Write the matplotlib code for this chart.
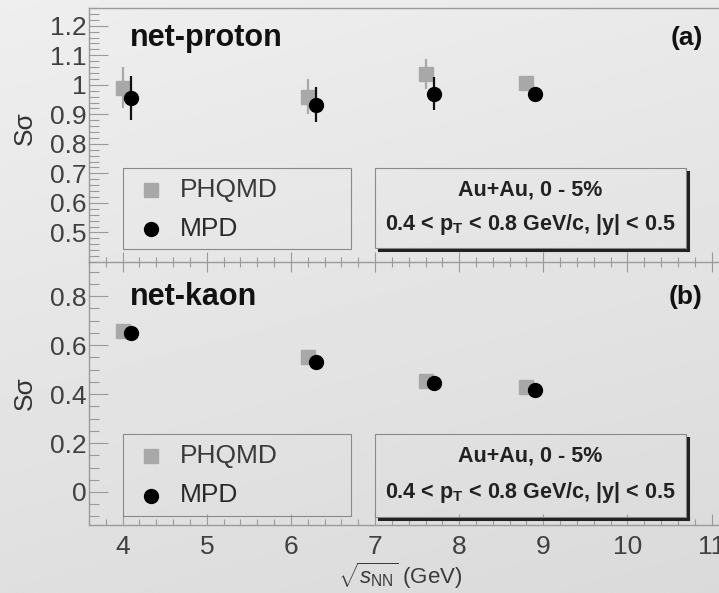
import numpy as np
import matplotlib
matplotlib.use("Agg")
import matplotlib.pyplot as plt
from matplotlib.lines import Line2D
from matplotlib.patches import Rectangle
from matplotlib.ticker import MultipleLocator, FuncFormatter

plt.rcParams['font.family'] = ['Liberation Sans', 'DejaVu Sans']
plt.rcParams['mathtext.fontset'] = 'custom'
plt.rcParams['mathtext.rm'] = 'Liberation Sans'
plt.rcParams['mathtext.it'] = 'Liberation Sans:italic'
plt.rcParams['mathtext.bf'] = 'Liberation Sans:bold'

# collision energies (GeV), MPD points shifted a bit to the right
energy_phqmd = [4.0, 6.2, 7.6, 8.8]
energy_mpd = [4.1, 6.3, 7.7, 8.9]

# S*sigma, net-proton
proton_phqmd = [0.99, 0.96, 1.037, 1.005]
proton_phqmd_err = [0.07, 0.058, 0.05, 0.02]
proton_mpd = [0.956, 0.933, 0.97, 0.97]
proton_mpd_err = [0.075, 0.06, 0.055, 0.012]

# S*sigma, net-kaon
kaon_phqmd = [0.657, 0.551, 0.453, 0.43]
kaon_phqmd_err = [0.015, 0.02, 0.02, 0.015]
kaon_mpd = [0.649, 0.53, 0.445, 0.416]
kaon_mpd_err = [0.012, 0.02, 0.015, 0.01]

W, H = 719, 593
fig = plt.figure(figsize=(W / 100, H / 100), dpi=100)

def fx(x):
    return x / W

def fy(y):
    return 1 - y / H

# soft grey background
bg = fig.add_axes([0, 0, 1, 1], zorder=-10)
yy, xx = np.mgrid[0:1:200j, 0:1:200j]
bg.imshow(0.935 - 0.06 * yy - 0.02 * xx, cmap='gray', vmin=0, vmax=1,
          aspect='auto', extent=[0, 1, 0, 1], origin='upper')
bg.axis('off')

ax1 = fig.add_axes([fx(89), fy(262), 631 / W, 254 / H])
ax2 = fig.add_axes([fx(89), fy(525), 631 / W, 263 / H])

gray = '#a8a8a8'
spine_col = '#9a9a9a'
lab = FuncFormatter(lambda v, p: f'{v:g}')

for ax in (ax1, ax2):
    ax.set_facecolor('none')
    ax.set_xlim(3.6, 11.1)
    ax.xaxis.set_major_locator(MultipleLocator(1))
    ax.xaxis.set_minor_locator(MultipleLocator(0.2))
    ax.yaxis.set_major_formatter(lab)
    for s in ax.spines.values():
        s.set_color(spine_col)
        s.set_linewidth(1)
    ax.spines['right'].set_visible(False)
    ax.tick_params(axis='y', which='major', direction='in', length=14, width=0.8,
                   color=spine_col, labelsize=19, labelcolor='#404040', pad=2)
    ax.tick_params(axis='y', which='minor', direction='in', length=7, width=0.8,
                   color=spine_col)

# net-proton panel
ax1.set_ylim(0.40, 1.26)
ax1.yaxis.set_minor_locator(MultipleLocator(0.02))
ax1.set_yticks(np.arange(0.5, 1.21, 0.1))
ax1.tick_params(axis='x', which='major', direction='inout', length=14, width=0.8,
                color=spine_col, labelbottom=False)
ax1.tick_params(axis='x', which='minor', direction='inout', length=7, width=0.8,
                color=spine_col)

ax1.errorbar(energy_phqmd, proton_phqmd, yerr=proton_phqmd_err, fmt='s', ms=10,
             color=gray, ecolor=gray, elinewidth=1.6, capsize=0, zorder=3)
ax1.errorbar(energy_mpd, proton_mpd, yerr=proton_mpd_err, fmt='o', ms=10,
             color='black', ecolor='#111111', elinewidth=1.6, capsize=0, zorder=4)

# net-kaon panel
ax2.set_ylim(-0.135, 0.94)
ax2.set_yticks(np.arange(0, 0.81, 0.2))
ax2.yaxis.set_minor_locator(MultipleLocator(0.05))
ax2.spines['top'].set_visible(False)
ax2.tick_params(axis='x', which='major', direction='in', length=8, width=0.8,
                color=spine_col, labelsize=19, labelcolor='#404040', pad=7)
ax2.tick_params(axis='x', which='minor', direction='in', length=4, width=0.8,
                color=spine_col)

ax2.errorbar(energy_phqmd, kaon_phqmd, yerr=kaon_phqmd_err, fmt='s', ms=10,
             color=gray, ecolor=gray, elinewidth=1.6, capsize=0, zorder=3)
ax2.errorbar(energy_mpd, kaon_mpd, yerr=kaon_mpd_err, fmt='o', ms=10,
             color='black', ecolor='#111111', elinewidth=1.6, capsize=0, zorder=4)

# panel labels and titles
fig.text(fx(130), fy(38), 'net-proton', fontsize=22, fontweight='bold', va='center',
         color='#111111')
fig.text(fx(703), fy(38), '(a)', fontsize=19, fontweight='bold', va='center', ha='right',
         color='#111111')
fig.text(fx(130), fy(297), 'net-kaon', fontsize=22, fontweight='bold', va='center',
         color='#111111')
fig.text(fx(703), fy(297), '(b)', fontsize=19, fontweight='bold', va='center', ha='right',
         color='#111111')

fig.text(fx(25), fy(128), 'Sσ', fontsize=19, rotation=90, ha='center',
         va='center', color='#333333')
fig.text(fx(25), fy(393), 'Sσ', fontsize=19, rotation=90, ha='center',
         va='center', color='#333333')
fig.text(fx(400), fy(576), r'$\sqrt{s_{\mathrm{NN}}}$ (GeV)', fontsize=16,
         ha='center', va='center', color='#3a3a3a')


def legend_box(top, bottom):
    fig.add_artist(Rectangle((fx(123), fy(bottom)), fx(351) - fx(123), fy(top) - fy(bottom),
                             transform=fig.transFigure, fill=False,
                             edgecolor='#8a8a8a', lw=0.8))
    y1 = top + (bottom - top) * 0.27
    y2 = top + (bottom - top) * 0.75
    fig.add_artist(Line2D([fx(151)], [fy(y1)], marker='s', ms=10, color=gray,
                          transform=fig.transFigure))
    fig.add_artist(Line2D([fx(151)], [fy(y2)], marker='o', ms=10, color='black',
                          transform=fig.transFigure))
    fig.text(fx(180), fy(y1), 'PHQMD', fontsize=19, va='center', color='#3a3a3a')
    fig.text(fx(180), fy(y2), 'MPD', fontsize=19, va='center', color='#2a2a2a')


def info_box(top, bottom):
    left, right = 375, 686
    fig.add_artist(Rectangle((fx(left), fy(bottom)), fx(right) - fx(left), fy(top) - fy(bottom),
                             transform=fig.transFigure, fill=False,
                             edgecolor='#8a8a8a', lw=0.8))
    # shadow along right and bottom edges
    fig.add_artist(Line2D([fx(right + 1.5), fx(right + 1.5)], [fy(top + 4), fy(bottom + 1.5)],
                          color='#222222', lw=2.2, transform=fig.transFigure))
    fig.add_artist(Line2D([fx(left + 4), fx(right + 1.5)], [fy(bottom + 1.5), fy(bottom + 1.5)],
                          color='#222222', lw=2.2, transform=fig.transFigure))
    cx = (left + right) / 2
    fig.text(fx(cx), fy(top + (bottom - top) * 0.27), 'Au+Au, 0 - 5%', fontsize=15.5,
             fontweight='bold', ha='center', va='center', color='#222222')
    fig.text(fx(cx), fy(top + (bottom - top) * 0.71),
             r'0.4 < p$_{\mathbf{T}}$ < 0.8 GeV/c, |y| < 0.5', fontsize=15.5,
             fontweight='bold', ha='center', va='center', color='#222222')


legend_box(168, 249)
info_box(168, 248)
legend_box(434, 516)
info_box(434, 517)

fig.savefig('out.png', dpi=100)
